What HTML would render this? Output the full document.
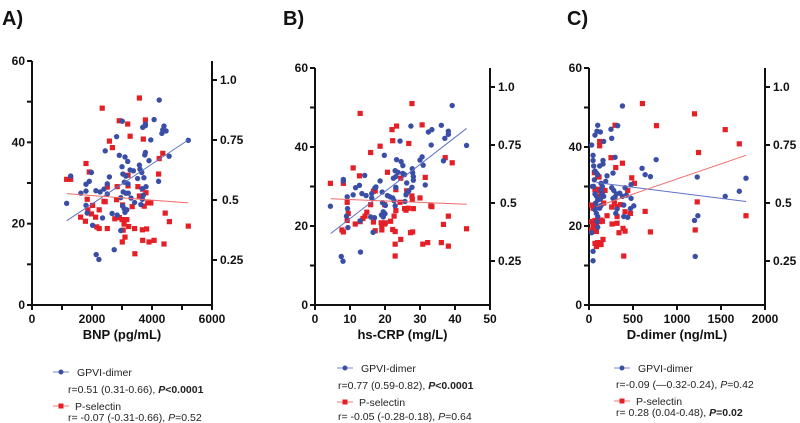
<!DOCTYPE html>
<html><head><meta charset="utf-8"><style>
body{margin:0;background:#fff;width:800px;height:423px;overflow:hidden}
svg{display:block;font-family:"Liberation Sans",Arial,sans-serif}
.tk{font-size:12px;font-weight:bold;fill:#111}
.lg{font-size:10.5px;fill:#222}
</style></head><body>
<svg id="chart" width="800" height="423" viewBox="0 0 800 423"></svg>
<script>
// Panel A: BNP
const aBlueX=[1155,1290,1630,1800,1800,1910,1980,1800,1840,2020,2130,2270,2400,2510,2580,2440,2820,2510,2670,2840,2740,2140,2230,2350,2910,3100,3190,3000,3030,3130,3080,3200,3040,3130,3210,3300,2960,3020,3070,3100,3160,3010,2960,3270,3380,3420,3520,3580,3600,3660,3730,3800,3670,3710,3680,3630,3690,3780,3780,3760,3780,3900,3960,4070,4240,4220,4360,4400,4470,4330,4570,5210];
const aBlueY=[25,31.7,27.5,28,29.7,30.4,32.6,24.5,22.6,19.6,28.1,27.8,28.5,29.8,31.5,37.9,41.4,27.3,22.5,22.1,13.6,12.4,11.2,21.4,36.8,36.4,35.3,34,32.2,31.7,30.2,29.8,27.8,27.5,27.5,26.3,26.4,24.4,23.7,22.8,23.4,45.2,18.3,33.2,33,25.2,31.1,34.4,33.4,32.6,31.3,29.1,28.6,27,26,24.7,43.7,44.1,44.5,36.9,37.5,35.5,40.6,45.6,50.4,30.4,43.1,44,42.8,42.2,36.6,40.5];
const aRedX=[1155,1290,2340,3580,2910,3190,3780,2580,2680,3270,3710,1800,1910,3200,4220,4240,4360,2510,2840,3200,3530,3690,3800,1840,2820,2400,2440,2020,3020,3340,3580,3740,3860,3960,1860,2240,1980,1620,2120,1780,2760,3000,3160,3070,2910,2160,2240,2510,3220,3420,3040,3680,3820,4440,4580,5210,3100,3010,3690,3900,4070,4400,3430];
const aRedY=[30.9,30.9,48.4,50.9,45.3,44.5,45.5,40.3,38.7,41.5,40.8,34.8,32.7,31.9,32.2,36,37.3,29,29.1,29.3,29.1,28.5,27.6,26,25.9,25.5,25.4,24.5,24.6,24.2,26.8,24.3,25.1,25.1,23.4,23.4,22.4,21.6,21.6,20.6,21.2,21,21,19.9,21.5,19.2,18.8,18.8,19.3,18.8,18.4,18.5,18.7,22.6,20.5,19.4,16.7,15.5,15.9,15.5,15.9,15,12.6];
const aBlueFit=[[1155,20.7],[5210,40.6]];
const aRedFit=[[1155,27.4],[5210,25.1]];
// Panel B: hs-CRP
const bBlueX=[4.4,8.1,8.1,9.2,9.3,9,9.4,7.5,8,10.9,11.6,12.7,14.2,13.4,14.6,13,12.9,15.9,16.2,17.1,17.4,16.2,17,16.6,18.6,19.8,19.2,20.7,21.4,22.2,22.6,19.3,20.1,19.5,20,19,19.5,22.4,23.1,22.9,23.7,23.1,22.9,24.3,23.3,24.6,25.1,25.1,25.6,26.2,26.5,26.8,25.7,26,27.7,27.8,27.9,28.1,28.1,27.4,30,30.6,30.9,31.5,33.2,32.4,33.4,36.1,36.7,37.1,38.1,38.1,39.2,43.3];
const bBlueY=[25,31.8,31.4,27.4,24.4,22.5,19.6,12.3,11.1,27.9,29.7,30.3,32.8,28.2,27.7,13.4,21.3,22.3,28.2,29.6,29.9,27.1,22.1,18.4,31.4,37.9,28.6,27.7,27.4,27.1,26.4,25.9,25.2,23.6,23.1,22.8,22.3,32.1,32.5,34,33.6,29.8,25.1,41.5,36.8,36.3,35.3,33.3,33,30.9,28.6,28.9,26.2,27.9,29.8,34.5,33.5,32.5,31.6,45.3,36.7,37.5,35.4,30.4,40.5,43.8,44.4,45.5,36.5,42.2,43.2,44,50.5,40.4];
const bRedX=[4.4,8.1,7.7,8.1,9.2,9.2,9.5,10.9,11.5,12.7,12.9,12.9,13.7,14.3,14.8,15.9,15.9,16.7,16.7,17.2,17.2,18.6,18.9,19.1,19.1,19.9,20.1,19.9,20.7,21.6,22,22.2,22.2,22.9,22.6,23.1,23.1,23.3,22.9,22.9,24.5,24.3,24.5,25.6,26,26.2,26.6,26.8,27.3,27.9,27.7,27.8,28.1,27.7,30,30.6,30.8,31.5,32.2,33.1,33.4,36.1,36.7,37.2,38.1,38.1,39.2,43.3];
const bRedY=[30.8,30.8,19,18.5,26,21.4,23.2,34.7,20.5,32.7,48.5,21.1,21.9,22.5,23.5,38.6,25.4,28.8,21,28.9,18.8,40.2,20.8,20,19,20.5,20.8,25.4,33.6,21.2,44.4,41.6,19.1,18.6,22.5,23.9,29.2,45.3,15.4,12.4,16.6,26,32.1,24.4,24,28.9,24.5,40.9,18.3,18.5,27.6,26.7,24.4,51,27.1,45.6,15.4,32.3,15.8,25.1,24.9,15.8,20.4,37.3,22.5,14.9,36,19.3];
const bBlueFit=[[4.5,18.1],[43.3,44.7]];
const bRedFit=[[4.5,26.9],[43.3,25.5]];
// Panel C: D-dimer
const cBlueX=[30,46,46,53,68,84,99,61,53,38,68,84,99,76,91,68,84,99,91,99,30,46,46,68,91,99,129,121,159,159,167,137,152,137,152,167,129,137,121,205,190,258,250,326,380,296,273,258,281,311,349,380,296,273,319,304,395,395,440,410,425,478,478,509,471,603,638,698,763,1199,1237,1230,1207,1548,1708,1784];
const cBlueY=[40.5,37.9,36.6,35.2,33.9,33.4,33,31.7,30,30,28.1,27.6,26.6,25.8,24.9,24.1,23.2,22.4,21.1,19.7,18.3,13.6,11.2,43,44,45.5,43.8,35.2,35.7,36.6,41.4,30.8,30,29,28.1,27.5,26.8,25.2,24.5,32.7,31.3,42.2,44.5,45.4,50.4,37.4,33.4,29.7,29,28.1,28.3,27.5,27.3,27,24.3,23.2,25.3,22.4,22.2,29.7,27.8,27,30.5,25.1,24.4,34.6,33,32.5,36.8,21.4,22.6,32.4,12.3,27.5,28.8,32.1];
const cRedX=[30,46,30,46,30,61,68,84,84,99,121,137,152,68,84,99,121,137,159,61,99,114,121,121,68,84,106,121,137,167,182,205,250,258,288,262,296,304,319,319,319,341,357,380,387,410,410,395,440,471,486,516,607,638,698,767,1199,1207,1230,1245,1548,1708,1784];
const cRedY=[25.3,24.5,21.1,19.9,19,20.3,21.4,20.9,18.6,21.5,21.1,21.5,21.2,15.6,14.8,15.8,15.6,15.3,16.6,33.5,32.5,32.4,41.4,40.3,29.2,29,29.3,27.5,28.1,25.8,29,22.6,37.3,24.8,25.8,20.5,45.5,34.8,24.9,22.4,20.7,18.3,25.4,35.9,19.4,18.7,23.6,12.4,29,23.2,32.2,30.8,51,23.7,18.5,45.4,48.4,19,26.1,38.6,44.4,40.8,22.6];
const cBlueFit=[[84,31],[1784,26.2]];
const cRedFit=[[84,24.9],[1784,37.9]];
const yTicks=[0,20,40,60];
const y2Ticks=[0.25,0.5,0.75,1.0];
const y2Labels=["0.25","0.5","0.75","1.0"];
const aXTicks=[0,2000,4000,6000], bXTicks=[0,10,20,30,40,50], cXTicks=[0,500,1000,1500,2000];

const NS="http://www.w3.org/2000/svg";
const svg=document.getElementById('chart');
const BLUE="#3a4ea6", RED="#e41f26";
function mk(tag,at,parent){const e=document.createElementNS(NS,tag);for(const k in at)e.setAttribute(k,at[k]);(parent||svg).appendChild(e);return e;}

function panel(p){
  const g=mk('g',{});
  
  
  const sx=v=>p.L+(v/p.xmax)*(p.R-p.L);
  const sy=v=>p.B-(v/60)*(p.B-p.T);
  const sy2=v=>p.y2c-(v-0.5)*p.y2s;
  const t=mk('text',{x:p.tx,y:25,'font-size':20,'font-weight':'bold',fill:'#111'},g);t.textContent=p.id.toUpperCase()+')';
  
  
  const ax=mk('g',{stroke:'#111','stroke-width':2,fill:'none'},g);
  
  
  mk('line',{x1:p.L,y1:p.T,x2:p.L,y2:p.B+1},ax);
  mk('line',{x1:p.L-1,y1:p.B,x2:p.R+1,y2:p.B},ax);
  mk('line',{x1:p.R,y1:p.T,x2:p.R,y2:p.B},ax);
  for(let v=0;v<=60;v+=10){mk('line',{x1:p.L-5,y1:sy(v),x2:p.L,y2:sy(v)},ax);}
  yTicks.forEach(v=>{const e=mk('text',{x:p.L-7,y:sy(v)+4,'text-anchor':'end',class:'tk'},g);e.textContent=v;
    
    });
  for(let v=0;v<=p.xmax+1e-9;v+=p.xminor){mk('line',{x1:sx(v),y1:p.B,x2:sx(v),y2:p.B+5},ax);}
  p.xt.forEach(v=>{const e=mk('text',{x:sx(v),y:p.B+18,'text-anchor':'middle',class:'tk'},g);e.textContent=v;
    
    });
  y2Ticks.forEach((v,i)=>{mk('line',{x1:p.R,y1:sy2(v),x2:p.R+5,y2:sy2(v)},ax);
    const e=mk('text',{x:p.R+(v==0.5?10:8),y:sy2(v)+4,class:'tk'},g);e.textContent=y2Labels[i];
    
    });
  const xt=mk('text',{x:(p.L+p.R)/2,y:p.B+34,'text-anchor':'middle','font-size':13,'font-weight':'bold',fill:'#111'},g);xt.textContent=p.xtitle;
  
  
  p.rx.forEach((v,i)=>{const e=mk('rect',{x:sx(v)-2.6,y:sy(p.ry[i])-2.6,width:5.2,height:5.2,fill:RED},g);
    
    });
  p.bx.forEach((v,i)=>{const e=mk('circle',{cx:sx(v),cy:sy(p.by[i]),r:2.7,fill:BLUE},g);
    
    });
  const fb=mk('line',{x1:sx(p.bf[0][0]),y1:sy(p.bf[0][1]),x2:sx(p.bf[1][0]),y2:sy(p.bf[1][1]),stroke:'#5f72c4','stroke-width':1},g);
  
  
  const fr=mk('line',{x1:sx(p.rf[0][0]),y1:sy(p.rf[0][1]),x2:sx(p.rf[1][0]),y2:sy(p.rf[1][1]),stroke:'#ee6a6a','stroke-width':1},g);
  
  
  const lg=mk('g',{},g);
  
  
  const m=p.lm;
  mk('line',{x1:m.x-8,y1:m.y1,x2:m.x+8,y2:m.y1,stroke:'#7a88cc','stroke-width':1},lg);
  mk('circle',{cx:m.x,cy:m.y1,r:2.5,fill:BLUE},lg);
  let e=mk('text',{x:m.x+16,y:m.y1+4,class:'lg'},lg);e.textContent='GPVI-dimer';
  
  
  e=mk('text',{x:m.rx,y:m.y2+4,class:'lg'},lg);e.innerHTML=p.r1;
  
  
  mk('line',{x1:m.x-8,y1:m.y3,x2:m.x+8,y2:m.y3,stroke:'#ef7a7a','stroke-width':1},lg);
  mk('rect',{x:m.x-2.5,y:m.y3-2.5,width:5,height:5,fill:RED},lg);
  e=mk('text',{x:m.x+14,y:m.y3+4,class:'lg'},lg);e.textContent='P-selectin';
  
  
  e=mk('text',{x:m.rx,y:m.y4+4,class:'lg'},lg);e.innerHTML=p.r2;
  
  
}
const I='font-style="italic"', BI='font-style="italic" font-weight="bold"', B='font-weight="bold"';
panel({id:'a',tx:2,L:32,R:212,T:61,B:305,xmax:6000,xminor:1000,xt:aXTicks,y2c:200,y2s:240,xtitle:'BNP (pg/mL)',
  bx:aBlueX,by:aBlueY,rx:aRedX,ry:aRedY,bf:aBlueFit,rf:aRedFit,
  lm:{x:61,rx:68,y1:372,y2:389,y3:406,y4:417},
  r1:'r=0.51 (0.31-0.66), <tspan '+BI+'>P</tspan><tspan '+B+'>&lt;0.0001</tspan>',
  r2:'r= -0.07 (-0.31-0.66), <tspan '+I+'>P</tspan>=0.52'});
panel({id:'b',tx:283,L:315,R:490,T:68,B:305,xmax:50,xminor:10,xt:bXTicks,y2c:203,y2s:232,xtitle:'hs-CRP (mg/L)',
  bx:bBlueX,by:bBlueY,rx:bRedX,ry:bRedY,bf:bBlueFit,rf:bRedFit,
  lm:{x:345,rx:338,y1:368,y2:385,y3:402,y4:416},
  r1:'r=0.77 (0.59-0.82), <tspan '+BI+'>P</tspan><tspan '+B+'>&lt;0.0001</tspan>',
  r2:'r= -0.05 (-0.28-0.18), <tspan '+I+'>P</tspan>=0.64'});
panel({id:'c',tx:567,L:589,R:765,T:68,B:305,xmax:2000,xminor:500,xt:cXTicks,y2c:203,y2s:232,xtitle:'D-dimer (ng/mL)',
  bx:cBlueX,by:cBlueY,rx:cRedX,ry:cRedY,bf:cBlueFit,rf:cRedFit,
  lm:{x:622,rx:616,y1:368,y2:384,y3:401,y4:412},
  r1:'r=-0.09 (—0.32-0.24), <tspan '+I+'>P</tspan>=0.42',
  r2:'r= 0.28 (0.04-0.48), <tspan '+BI+'>P</tspan><tspan '+B+'>=0.02</tspan>'});
</script>
</body></html>
